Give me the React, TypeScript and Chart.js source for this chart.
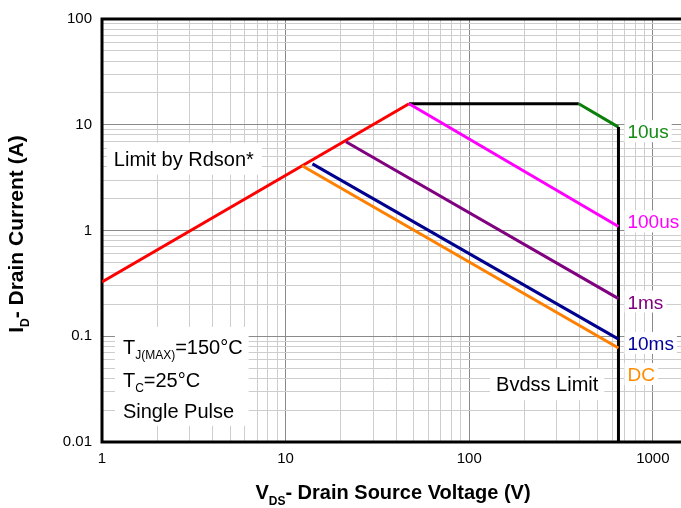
import { useEffect, useRef } from 'react';
import { Chart, registerables } from 'chart.js';

Chart.register(...registerables);

const FONT = '"Liberation Sans", Arial, Helvetica, sans-serif';

// ---- data (V, A) ----
const rdsonLimit = [{ x: 1, y: 0.326 }, { x: 47, y: 15.8 }];
const currentLimit = [{ x: 47, y: 15.8 }, { x: 395, y: 15.8 }];
const pulse10us = [{ x: 395, y: 15.8 }, { x: 650, y: 9.5 }];
const bvdssLimit = [{ x: 650, y: 9.5 }, { x: 650, y: 0.01 }];
const pulse100us = [{ x: 47, y: 15.8 }, { x: 650, y: 1.09 }];
const pulse1ms = [{ x: 21.3, y: 6.9 }, { x: 650, y: 0.227 }];
const pulse10ms = [{ x: 14, y: 4.27 }, { x: 650, y: 0.094 }];
const dcLimit = [{ x: 12.3, y: 4.09 }, { x: 650, y: 0.0774 }];

// ---- axes ----
const xDecades = [1, 10, 100, 1000];
const xTickLabels = ['1', '10', '100', '1000'];
const yDecades = [0.01, 0.1, 1, 10, 100];
const yTickLabels = ['0.01', '0.1', '1', '10', '100'];
const minorSteps = [2, 3, 4, 5, 6, 7, 8, 9];
const xMin = 1;
const xMax = 1424;
const yMin = 0.01;
const yMax = 100;

// ---- end-of-line tags ----
const seriesTags = ['10us', '100us', '1ms', '10ms', 'DC'];
const seriesTagCurrents = [8.7, 1.22, 0.213, 0.0865, 0.044];
const seriesTagColors = ['#148c14', '#ff00ff', '#800080', '#00009c', '#ff8c00'];
const tagVoltage = 650;

// ---- notes (anchored in data units) ----
const rdsonNoteAt = { x: 1.16, y: 4.77 };
const conditionsAt = { x: 1.3, y: 0.0794 };
const bvdssNoteAt = { x: 140, y: 0.0352 };

function gridValues(decades: number[]) {
  const out: number[] = [];
  decades.forEach((d, i) => {
    out.push(d);
    if (i < decades.length - 1) minorSteps.forEach((m) => out.push(d * m));
  });
  return out;
}

type Part = { t: string; size: number; dy: number };

function partsWidth(ctx: CanvasRenderingContext2D, parts: Part[], weight: string) {
  let w = 0;
  parts.forEach((p) => {
    ctx.font = `${weight} ${p.size}px ${FONT}`;
    w += ctx.measureText(p.t).width;
  });
  return w;
}

function drawParts(ctx: CanvasRenderingContext2D, parts: Part[], x: number, y: number, weight: string) {
  let cx = x;
  parts.forEach((p) => {
    ctx.font = `${weight} ${p.size}px ${FONT}`;
    ctx.fillText(p.t, cx, y + p.dy);
    cx += ctx.measureText(p.t).width;
  });
}

const condLines: Part[][] = [
  [{ t: 'T', size: 20, dy: 0 }, { t: 'J(MAX)', size: 12, dy: 5 }, { t: '=150°C', size: 20, dy: 0 }],
  [{ t: 'T', size: 20, dy: 0 }, { t: 'C', size: 12, dy: 5 }, { t: '=25°C', size: 20, dy: 0 }],
  [{ t: 'Single Pulse', size: 20, dy: 0 }],
];

const overlayPlugin = {
  id: 'soaOverlay',
  beforeDatasetsDraw(chart: any) {
    const ctx: CanvasRenderingContext2D = chart.ctx;
    const { left, top, right, bottom } = chart.chartArea;
    const xs = chart.scales.x;
    const ys = chart.scales.y;
    ctx.save();
    ctx.fillStyle = '#ffffff';
    // Rdson note box
    ctx.font = `20px ${FONT}`;
    const rx = xs.getPixelForValue(rdsonNoteAt.x);
    const ry = ys.getPixelForValue(rdsonNoteAt.y);
    const rw = ctx.measureText('Limit by Rdson*').width;
    ctx.fillRect(rx - 7, ry - 16, rw + 15, 32);
    // conditions box
    const cx = xs.getPixelForValue(conditionsAt.x);
    const cy = ys.getPixelForValue(conditionsAt.y);
    let maxW = 0;
    condLines.forEach((l) => { maxW = Math.max(maxW, partsWidth(ctx, l, '')); });
    ctx.fillRect(cx - 8, cy - 20, maxW + 14, 64 + 35);
    // bvdss box
    ctx.font = `20px ${FONT}`;
    const bx = xs.getPixelForValue(bvdssNoteAt.x);
    const by = ys.getPixelForValue(bvdssNoteAt.y);
    const bw = ctx.measureText('Bvdss Limit').width;
    ctx.fillRect(bx - 6, by - 15, bw + 12, 31);
    // series tag boxes
    ctx.font = `19px ${FONT}`;
    const tx = xs.getPixelForValue(tagVoltage) + 9;
    seriesTags.forEach((t, i) => {
      const ty = ys.getPixelForValue(seriesTagCurrents[i]);
      const w = ctx.measureText(t).width;
      ctx.fillRect(tx - 3, ty - 11, w + 6, 22);
    });
    // frame
    ctx.strokeStyle = '#000';
    ctx.lineWidth = 3;
    ctx.beginPath();
    ctx.moveTo(right + 2, top);
    ctx.lineTo(left, top);
    ctx.lineTo(left, bottom);
    ctx.lineTo(right + 2, bottom);
    ctx.stroke();
    ctx.restore();
  },
  afterDraw(chart: any) {
    const ctx: CanvasRenderingContext2D = chart.ctx;
    const xs = chart.scales.x;
    const ys = chart.scales.y;
    ctx.save();
    ctx.textBaseline = 'alphabetic';
    ctx.textAlign = 'left';
    ctx.fillStyle = '#000';
    // notes
    ctx.font = `20px ${FONT}`;
    ctx.fillText('Limit by Rdson*', xs.getPixelForValue(rdsonNoteAt.x), ys.getPixelForValue(rdsonNoteAt.y) + 7);
    ctx.fillText('Bvdss Limit', xs.getPixelForValue(bvdssNoteAt.x), ys.getPixelForValue(bvdssNoteAt.y) + 7);
    const cx = xs.getPixelForValue(conditionsAt.x);
    const cy = ys.getPixelForValue(conditionsAt.y);
    const rowGap = [0, 33, 64];
    condLines.forEach((l, i) => drawParts(ctx, l, cx, cy + 7 + rowGap[i], ''));
    // series tags
    ctx.font = `19px ${FONT}`;
    const tx = xs.getPixelForValue(tagVoltage) + 9;
    seriesTags.forEach((t, i) => {
      ctx.fillStyle = seriesTagColors[i];
      ctx.fillText(t, tx, ys.getPixelForValue(seriesTagCurrents[i]) + 7);
    });
    // axis titles
    ctx.fillStyle = '#000';
    const xt: Part[] = [
      { t: 'V', size: 20, dy: 0 },
      { t: 'DS', size: 12, dy: 6 },
      { t: '- Drain Source Voltage (V)', size: 20, dy: 0 },
    ];
    const xw = partsWidth(ctx, xt, 'bold');
    drawParts(ctx, xt, 393 - xw / 2, 499, 'bold');
    const yt: Part[] = [
      { t: 'I', size: 21, dy: 0 },
      { t: 'D', size: 12, dy: 6 },
      { t: '- Drain Current (A)', size: 21, dy: 0 },
    ];
    const yw = partsWidth(ctx, yt, 'bold');
    ctx.translate(23, 234);
    ctx.rotate(-Math.PI / 2);
    drawParts(ctx, yt, -yw / 2, 0, 'bold');
    ctx.restore();
  },
};

const isDecade = (v: number, decades: number[]) => decades.indexOf(v) >= 0;

export default function App() {
  const ref = useRef<HTMLCanvasElement | null>(null);
  useEffect(() => {
    document.body.style.margin = '0';
    const canvas = ref.current;
    if (!canvas) return;
    const line = (data: any[], color: string) => ({
      data,
      showLine: true,
      borderColor: color,
      backgroundColor: color,
      borderWidth: 3,
      pointRadius: 0,
      fill: false,
      tension: 0,
      borderCapStyle: 'butt' as const,
    });
    const chart = new Chart(canvas, {
      type: 'scatter',
      data: {
        datasets: [
          line(dcLimit, '#ff8000'),
          line(pulse10ms, '#00008f'),
          line(pulse1ms, '#800080'),
          line(pulse100us, '#ff00ff'),
          line(bvdssLimit, '#000000'),
          line(pulse10us, '#0a7f0a'),
          line(currentLimit, '#000000'),
          line(rdsonLimit, '#ff0000'),
        ],
      },
      options: {
        animation: false,
        responsive: false,
        devicePixelRatio: 1,
        layout: { padding: { top: 15, right: 0, left: 0, bottom: 0 } },
        plugins: { legend: { display: false }, tooltip: { enabled: false } },
        scales: {
          x: {
            type: 'logarithmic',
            min: xMin,
            max: xMax,
            border: { display: false },
            afterBuildTicks: (s: any) => {
              s.ticks = gridValues(xDecades).map((v) => ({ value: v, major: false }));
            },
            afterFit: (s: any) => { s.height = 66; },
            grid: {
              drawTicks: false,
              lineWidth: 1,
              color: (c: any) => (c.tick && isDecade(c.tick.value, xDecades) ? '#8a8a8a' : '#cdcdcd'),
            },
            ticks: {
              autoSkip: false,
              maxRotation: 0,
              minRotation: 0,
              padding: 8,
              color: '#000',
              font: { family: FONT, size: 15 },
              callback: (v: any) => {
                const i = xDecades.indexOf(Number(v));
                return i >= 0 ? xTickLabels[i] : '';
              },
            },
          },
          y: {
            type: 'logarithmic',
            min: yMin,
            max: yMax,
            border: { display: false },
            afterBuildTicks: (s: any) => {
              s.ticks = gridValues(yDecades).map((v) => ({ value: v, major: false }));
            },
            afterFit: (s: any) => { s.width = 102; },
            grid: {
              drawTicks: false,
              lineWidth: 1,
              color: (c: any) => (c.tick && isDecade(c.tick.value, yDecades) ? '#8a8a8a' : '#cdcdcd'),
            },
            ticks: {
              autoSkip: false,
              padding: 10,
              color: '#000',
              font: { family: FONT, size: 15 },
              callback: (v: any) => {
                const i = yDecades.indexOf(Number(v));
                return i >= 0 ? yTickLabels[i] : '';
              },
            },
          },
        },
      },
      plugins: [overlayPlugin],
    } as any);
    return () => chart.destroy();
  }, []);
  return (
    <div style={{ position: 'absolute', left: 0, top: 0, width: 681, height: 508 }}>
      <canvas ref={ref} width={681} height={508} style={{ width: 681, height: 508, display: 'block' }} />
    </div>
  );
}
